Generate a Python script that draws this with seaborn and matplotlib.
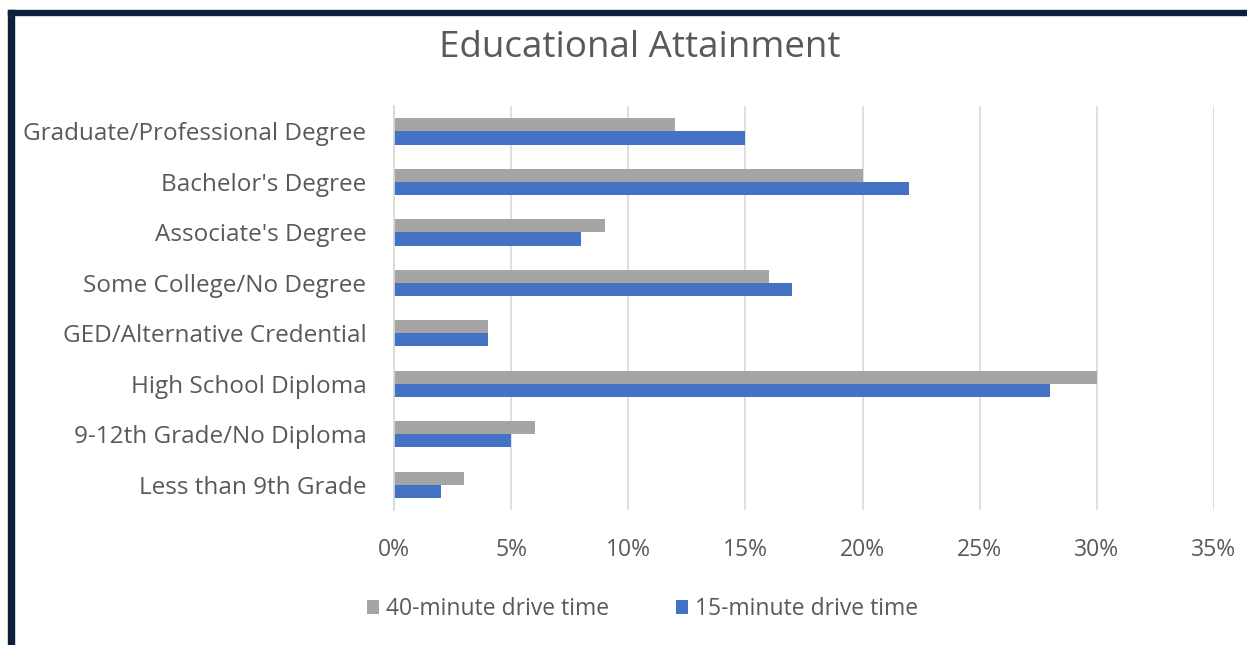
import numpy as np
import pandas as pd
import matplotlib.pyplot as plt
import seaborn as sns
from matplotlib.patches import Rectangle
from matplotlib.ticker import FuncFormatter

# Datos
categorias = ["Graduate/Professional Degree", "Bachelor's Degree", "Associate's Degree",
              "Some College/No Degree", "GED/Alternative Credential", "High School Diploma",
              "9-12th Grade/No Diploma", "Less than 9th Grade"]
drive_40 = [12, 20, 9, 16, 4, 30, 6, 3]
drive_15 = [15, 22, 8, 17, 4, 28, 5, 2]
series = ["40-minute drive time", "15-minute drive time"]

data = pd.DataFrame({
    "categoria": categorias * 2,
    "valor": drive_40 + drive_15,
    "serie": [series[0]] * len(categorias) + [series[1]] * len(categorias),
})

sns.set_theme(style="white")
plt.rcParams['font.family'] = ['Open Sans', 'DejaVu Sans']

fig = plt.figure(figsize=(12.47, 6.45), dpi=100)
ax = fig.add_axes([0.316, 0.2093, 0.6575, 0.626])

sns.barplot(data=data, x="valor", y="categoria", hue="serie", orient="h",
            palette=["#A5A5A5", "#4472C4"], width=0.52, gap=0, saturation=1,
            edgecolor="none", ax=ax)

ax.set_xlim(0, 35)
ax.set_ylim(7.5, -0.5)
ax.set_xticks(np.arange(0, 36, 5))
ax.xaxis.set_major_formatter(FuncFormatter(lambda v, p: f"{v:.0f}%"))
ax.grid(axis="x", color="#D9D9D9", linewidth=1.2)
ax.set_axisbelow(True)
for s in ["top", "right", "bottom"]:
    ax.spines[s].set_visible(False)
ax.spines["left"].set_color("#D9D9D9")
ax.tick_params(axis="both", length=0, colors="#595959")
ax.tick_params(axis="y", pad=20, labelsize=17.5)
ax.tick_params(axis="x", pad=20, labelsize=16.5)
ax.set_xlabel("")
ax.set_ylabel("")

ax.legend(loc="upper center", bbox_to_anchor=(0.303, -0.165), ncol=2, frameon=False,
          fontsize=16.5, labelcolor="#595959", handlelength=0.55, handleheight=0.55,
          handletextpad=0.3, columnspacing=2.9)

fig.suptitle("Educational Attainment", x=0.513, y=0.953, fontsize=26.5, color="#595959")

# Marco azul oscuro arriba y a la izquierda
fig.add_artist(Rectangle((8, 645 - 15), 1239, 5, transform=None, color="#0F1E3A"))
fig.add_artist(Rectangle((8, 0), 6, 635, transform=None, color="#0F1E3A"))

plt.savefig("out.png", dpi=100)
